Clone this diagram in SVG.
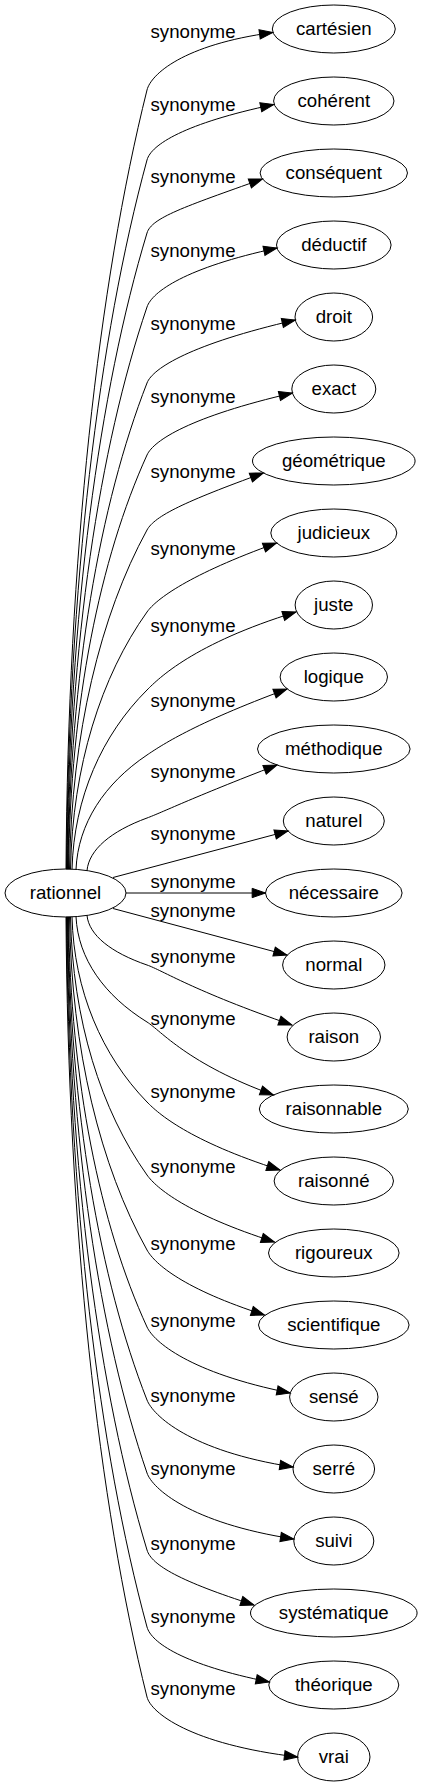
<svg xmlns="http://www.w3.org/2000/svg" width="422" height="1787" viewBox="0 0 422 1787">
<style>
.n ellipse{fill:none;stroke:#000;stroke-width:1}
text{font-family:"Liberation Sans",Arial,sans-serif;font-size:18.67px;fill:#000;text-anchor:middle}
.e path{fill:none;stroke:#000;stroke-width:1;marker-end:url(#a)}
</style>
<defs>
<marker id="a" markerUnits="userSpaceOnUse" markerWidth="16" markerHeight="12" refX="13.33" refY="6" orient="auto" overflow="visible">
<path d="M0,1.33 L13.33,6 L0,10.67 Z" fill="#000" stroke="#000" stroke-width="1"/>
</marker>
</defs>
<rect width="422" height="1787" fill="#fff"/>
<g class="e" id="edges">
<path d="M66,869.2 C68,557.5 98.4,284.8 147,90 C150.9,74.5 183,44.6 272.8,32.5"/>
<path d="M66.5,869.2 C68.5,585.5 98.7,337.3 147,160 C151.2,144.6 184.5,123.4 273.8,104.5"/>
<path d="M67,869.2 C69,614.7 99,392 147,233 C151.6,217.7 184.1,206.9 262.4,179"/>
<path d="M67.5,869.2 C69.5,644.3 99.3,447.6 147,307 C152.1,291.8 185.5,267.7 277,248"/>
<path d="M68,869.2 C70,674.7 99.6,504.6 147,383 C152.8,368.1 191.3,344 295.3,320"/>
<path d="M68.5,869.2 C70.5,703.5 99.9,558.6 147,455 C153.6,440.4 190.4,416.6 292.4,393"/>
<path d="M69.5,869.2 C71.5,733.5 100.5,614.8 147,530 C154.7,516 184.6,501.6 263.4,473"/>
<path d="M70.5,869.2 C72.5,766.3 101.1,676.3 147,612 C156.3,599 188.8,574.6 276.5,543"/>
<path d="M72,869.2 C74,797.5 102,734.8 147,690 C158.3,678.7 193.4,643.5 296,612"/>
<path d="M76,869.4 C78,823.6 104.4,783.6 147,755 C160.3,746.1 192.5,724 287,689"/>
<path d="M87,870.6 C89,849.6 111,831.2 147,818 C162,812.5 189.7,798.6 277,765"/>
<path d="M113,877.5 L288,831"/>
<path d="M126,893 L265.5,893"/>
<path d="M113,908.5 L287,955"/>
<path d="M87,915.4 C89,935.2 111,952.6 147,965 C162.1,970.2 193.3,990.9 292,1025"/>
<path d="M76,916.6 C78,958.8 104.4,995.6 147,1022 C160.6,1030.4 187.8,1064.1 273.5,1095"/>
<path d="M72,916.9 C74,990.9 102,1055.7 147,1102 C158.2,1113.5 188.7,1140.8 280,1170"/>
<path d="M70.5,916.9 C72.5,1020.1 101.1,1110.5 147,1175 C156.3,1188 187,1214 274.5,1242"/>
<path d="M69.5,916.9 C71.5,1050.1 100.5,1166.7 147,1250 C154.8,1264 183.9,1289.2 264.5,1315"/>
<path d="M68.5,916.9 C70.5,1080.9 99.9,1224.5 147,1327 C153.7,1341.5 189.1,1372.8 290.2,1393"/>
<path d="M68,916.9 C70,1110.1 99.6,1279.2 147,1400 C152.8,1414.9 189.2,1451 293.1,1467"/>
<path d="M67.5,916.9 C69.5,1139.3 99.3,1334 147,1473 C152.2,1488.1 189.4,1522.9 293.8,1539"/>
<path d="M67,916.9 C69,1170.1 99,1391.7 147,1550 C151.6,1565.3 180.6,1581.5 254,1605"/>
<path d="M66.5,916.9 C68.5,1200.9 98.7,1449.5 147,1627 C151.2,1642.4 182.9,1664.7 269.3,1682"/>
<path d="M66,916.9 C68,1228.9 98.4,1502 147,1697 C150.9,1712.5 190,1744.3 297.7,1757"/>
<g id="labels">
<text x="193" y="38">synonyme</text>
<text x="193" y="111">synonyme</text>
<text x="193" y="183">synonyme</text>
<text x="193" y="257">synonyme</text>
<text x="193" y="330">synonyme</text>
<text x="193" y="403">synonyme</text>
<text x="193" y="478">synonyme</text>
<text x="193" y="555">synonyme</text>
<text x="193" y="632">synonyme</text>
<text x="193" y="707">synonyme</text>
<text x="193" y="778">synonyme</text>
<text x="193" y="840">synonyme</text>
<text x="193" y="888">synonyme</text>
<text x="193" y="917">synonyme</text>
<text x="193" y="963">synonyme</text>
<text x="193" y="1025">synonyme</text>
<text x="193" y="1098">synonyme</text>
<text x="193" y="1173">synonyme</text>
<text x="193" y="1250">synonyme</text>
<text x="193" y="1327">synonyme</text>
<text x="193" y="1402">synonyme</text>
<text x="193" y="1475">synonyme</text>
<text x="193" y="1550">synonyme</text>
<text x="193" y="1623">synonyme</text>
<text x="193" y="1695">synonyme</text>
</g>
</g>
<g class="n" id="rationnel"><ellipse cx="65.5" cy="893" rx="60.5" ry="24"/><text x="65.5" y="899">rationnel</text></g>
<g class="n" id="cartesien"><ellipse cx="333.8" cy="29" rx="61.5" ry="24"/><text x="333.8" y="35">cartésien</text></g>
<g class="n" id="coherent"><ellipse cx="333.8" cy="101" rx="60.2" ry="24"/><text x="333.8" y="107">cohérent</text></g>
<g class="n" id="consequent"><ellipse cx="333.8" cy="173" rx="73.7" ry="24"/><text x="333.8" y="179">conséquent</text></g>
<g class="n" id="deductif"><ellipse cx="333.8" cy="245" rx="57.3" ry="24"/><text x="333.8" y="251">déductif</text></g>
<g class="n" id="droit"><ellipse cx="333.8" cy="317" rx="38.8" ry="24"/><text x="333.8" y="323">droit</text></g>
<g class="n" id="exact"><ellipse cx="333.8" cy="389" rx="42" ry="24"/><text x="333.8" y="395">exact</text></g>
<g class="n" id="geometrique"><ellipse cx="333.8" cy="461" rx="81.3" ry="24"/><text x="333.8" y="467">géométrique</text></g>
<g class="n" id="judicieux"><ellipse cx="333.8" cy="533" rx="63" ry="24"/><text x="333.8" y="539">judicieux</text></g>
<g class="n" id="juste"><ellipse cx="333.8" cy="605" rx="38.7" ry="24"/><text x="333.8" y="611">juste</text></g>
<g class="n" id="logique"><ellipse cx="333.8" cy="677" rx="53.7" ry="24"/><text x="333.8" y="683">logique</text></g>
<g class="n" id="methodique"><ellipse cx="333.8" cy="749" rx="76.3" ry="24"/><text x="333.8" y="755">méthodique</text></g>
<g class="n" id="naturel"><ellipse cx="333.8" cy="821" rx="50.5" ry="24"/><text x="333.8" y="827">naturel</text></g>
<g class="n" id="necessaire"><ellipse cx="333.8" cy="893" rx="68.3" ry="24"/><text x="333.8" y="899">nécessaire</text></g>
<g class="n" id="normal"><ellipse cx="333.8" cy="965" rx="51.2" ry="24"/><text x="333.8" y="971">normal</text></g>
<g class="n" id="raison"><ellipse cx="333.8" cy="1037" rx="46.7" ry="24"/><text x="333.8" y="1043">raison</text></g>
<g class="n" id="raisonnable"><ellipse cx="333.8" cy="1109" rx="74.5" ry="24"/><text x="333.8" y="1115">raisonnable</text></g>
<g class="n" id="raisonne"><ellipse cx="333.8" cy="1181" rx="59.7" ry="24"/><text x="333.8" y="1187">raisonné</text></g>
<g class="n" id="rigoureux"><ellipse cx="333.8" cy="1253" rx="65.3" ry="24"/><text x="333.8" y="1259">rigoureux</text></g>
<g class="n" id="scientifique"><ellipse cx="333.8" cy="1325" rx="75.3" ry="24"/><text x="333.8" y="1331">scientifique</text></g>
<g class="n" id="sense"><ellipse cx="333.8" cy="1397" rx="44.2" ry="24"/><text x="333.8" y="1403">sensé</text></g>
<g class="n" id="serre"><ellipse cx="333.8" cy="1469" rx="40.8" ry="24"/><text x="333.8" y="1475">serré</text></g>
<g class="n" id="suivi"><ellipse cx="333.8" cy="1541" rx="40" ry="24"/><text x="333.8" y="1547">suivi</text></g>
<g class="n" id="systematique"><ellipse cx="333.8" cy="1613" rx="83.3" ry="24"/><text x="333.8" y="1619">systématique</text></g>
<g class="n" id="theorique"><ellipse cx="333.8" cy="1685" rx="65" ry="24"/><text x="333.8" y="1691">théorique</text></g>
<g class="n" id="vrai"><ellipse cx="333.8" cy="1757" rx="36.2" ry="24"/><text x="333.8" y="1763">vrai</text></g>
</svg>
